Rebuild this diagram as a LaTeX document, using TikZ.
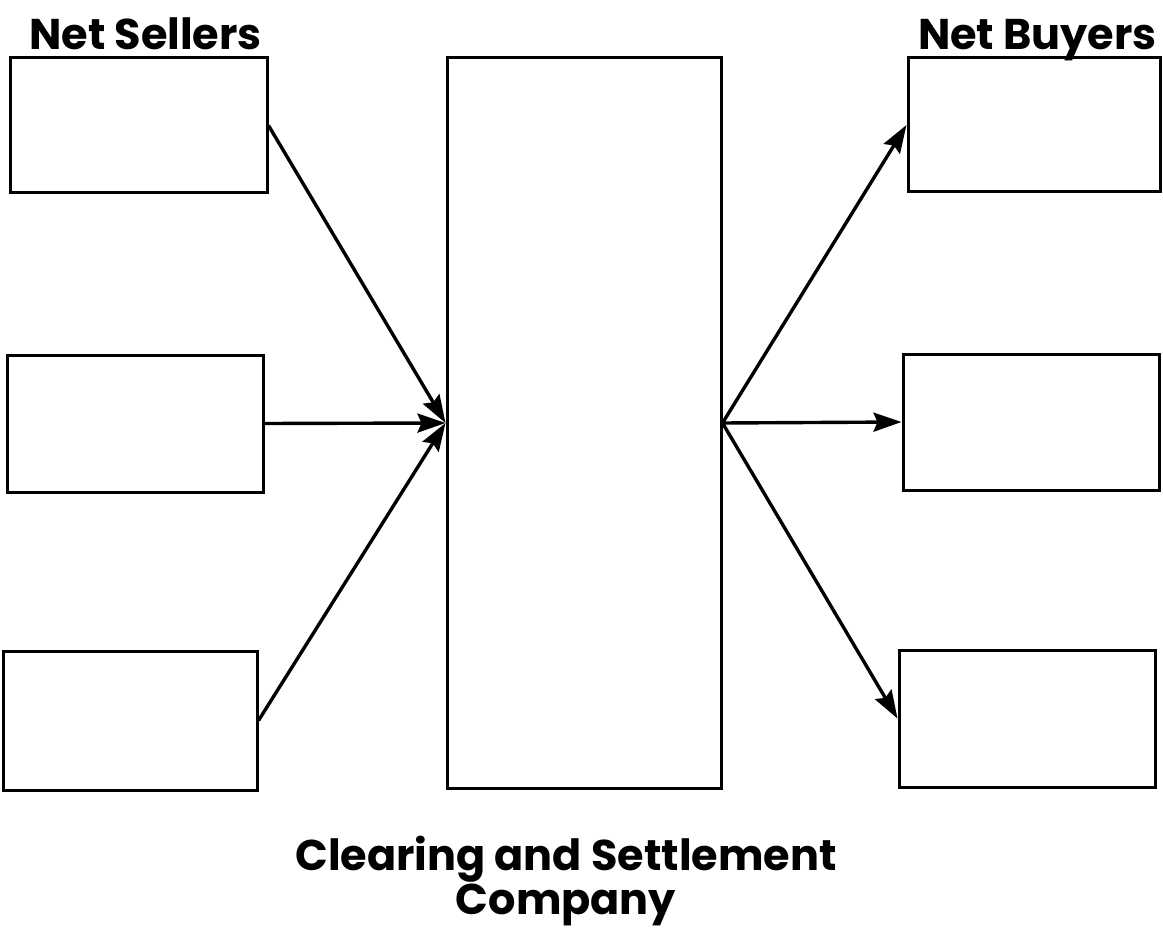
\documentclass[tikz,border=0pt]{standalone}
\usepackage{fontspec}
\setmainfont{Poppins}
\usetikzlibrary{arrows.meta}
\begin{document}
\begin{tikzpicture}[x=1pt,y=-1pt,
  party/.style={draw=black,line width=3pt,rectangle,inner sep=0pt},
  flow/.style={line width=3.4pt,-{Stealth[length=28pt,width=19pt,inset=4pt]}},
  heading/.style={font=\fontsize{43}{47}\selectfont\bfseries,inner sep=0pt}]
  \useasboundingbox (0,0) rectangle (1163,928);
  \fill[white] (0,0) rectangle (1163,928);

  % participants and the central company
  \node[party,minimum width=257pt,minimum height=135pt] (tl) at (138.5,125.5) {};
  \node[party,minimum width=256pt,minimum height=137pt] (ml) at (135,423.5) {};
  \node[party,minimum width=254pt,minimum height=139pt] (bl) at (130,720.5) {};
  \node[party,minimum width=274pt,minimum height=730pt] (csc) at (584,423) {};
  \node[party,minimum width=252pt,minimum height=134pt] (tr) at (1034,125) {};
  \node[party,minimum width=256pt,minimum height=136pt] (mr) at (1031,422) {};
  \node[party,minimum width=256pt,minimum height=137pt] (br) at (1027,718.5) {};

  % flows into and out of the company
  \draw[flow] (tl.east) -- (csc.west);
  \draw[flow] (ml.east) -- (csc.west);
  \draw[flow] (bl.east) -- (csc.west);
  \draw[flow] (csc.east) -- (tr.west);
  \draw[flow] (csc.east) -- (mr.west);
  \draw[flow] (csc.east) -- (br.west);

  % headings
  \node[heading,anchor=base west] (sellers) at (29,50) {Net Sellers};
  \node[heading,anchor=base east] (buyers) at (1157,50) {Net Buyers};
  \node[heading,anchor=base] (company1) at (566,870) {Clearing and Settlement};
  \node[heading,anchor=base] (company2) at (566,914) {Company};
\end{tikzpicture}
\end{document}
